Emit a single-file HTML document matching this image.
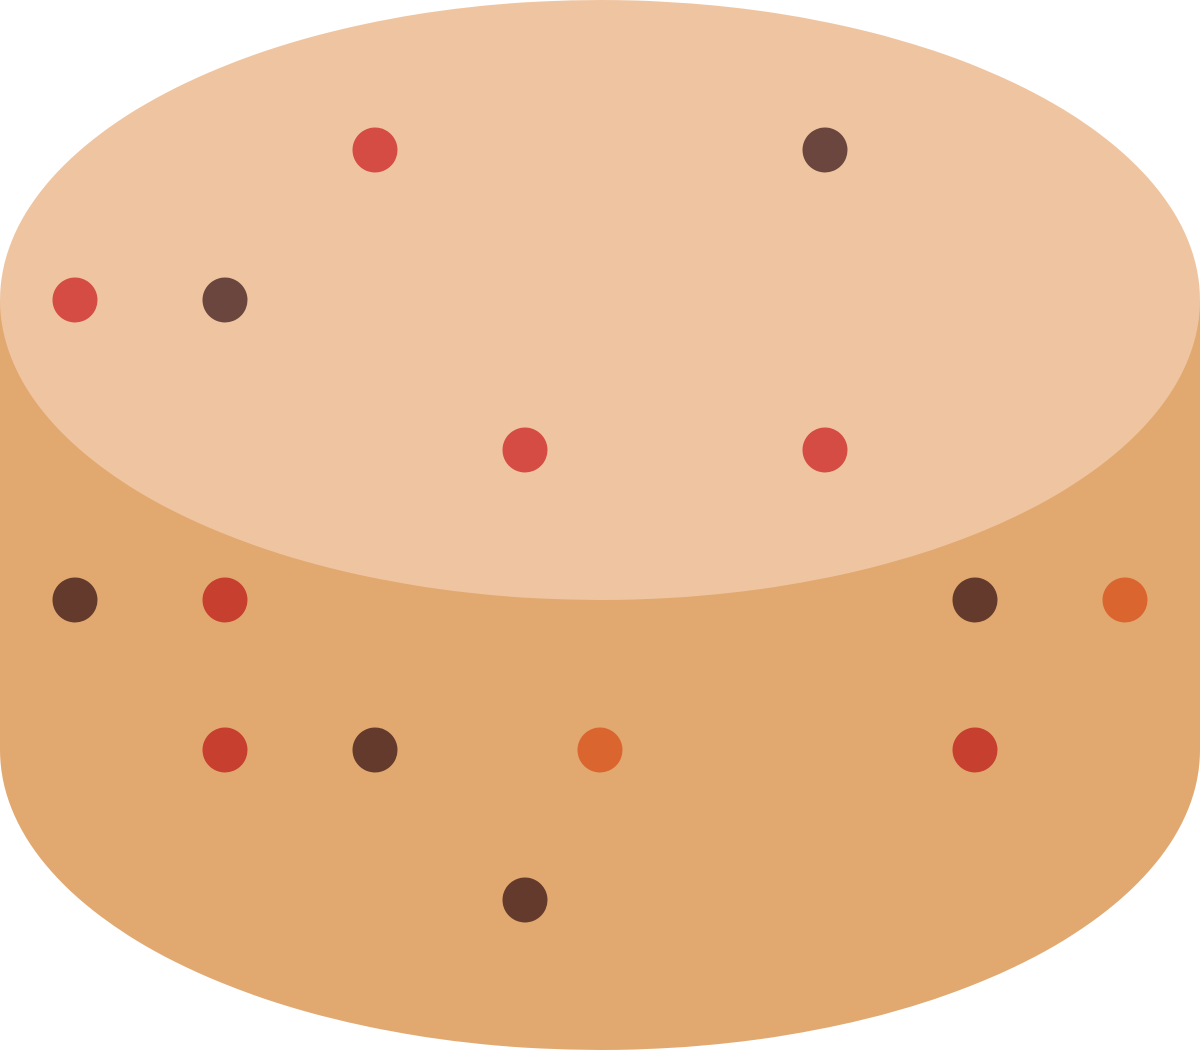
<!DOCTYPE html>
<html>
<head>
<meta charset="utf-8">
<style>
html,body{margin:0;padding:0;background:#fff;width:1200px;height:1050px;overflow:hidden;}
svg{display:block;}
</style>
</head>
<body>
<svg id="cake" width="1200" height="1050" viewBox="0 0 1200 1050" xmlns="http://www.w3.org/2000/svg">
  <path d="M0,300 L0,750 A600,300 0 0 0 1200,750 L1200,300 Z" fill="#E1A970"/>
  <ellipse cx="600" cy="300" rx="600" ry="300" fill="#EFC5A1"/>
  <g id="dots"></g>
</svg>
<script>
const dotX = [375, 825, 75, 225, 525, 825, 75, 225, 975, 1125, 225, 375, 600, 975, 525];
const dotY = [150, 150, 300, 300, 450, 450, 600, 600, 600, 600, 750, 750, 750, 750, 900];
const dotKind = ['red','brown','red','brown','red','red','dark','crimson','dark','orange','crimson','dark','orange','crimson','dark'];
const palette = {red:'#D44C43', brown:'#6B463F', dark:'#633A2B', crimson:'#C73F2E', orange:'#DB652F'};
const g = document.getElementById('dots');
for (let i = 0; i < dotX.length; i++) {
  const c = document.createElementNS('http://www.w3.org/2000/svg','circle');
  c.setAttribute('cx', dotX[i]);
  c.setAttribute('cy', dotY[i]);
  c.setAttribute('r', 22.5);
  c.setAttribute('fill', palette[dotKind[i]]);
  
  
  g.appendChild(c);
}
</script>
</body>
</html>
